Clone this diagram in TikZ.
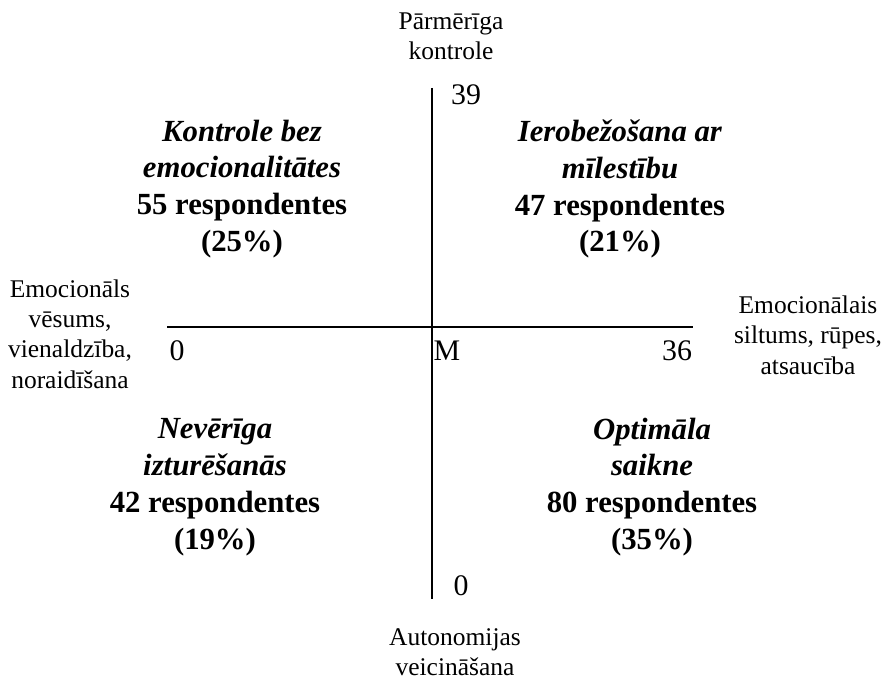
\documentclass[tikz,border=0pt]{standalone}
\usepackage{fontspec}
\setmainfont{Liberation Serif}
\usetikzlibrary{positioning}
\tikzset{
  quad/.style={align=center,font=\fontsize{17.5}{21}\selectfont\bfseries},
  axlab/.style={align=center,font=\fontsize{14.5}{17.3}\selectfont},
  val/.style={font=\fontsize{17}{20}\selectfont},
  axis/.style={line width=1.3pt}
}
\begin{document}
\begin{tikzpicture}[x=0.02cm,y=-0.02cm]
  \useasboundingbox (0,0) rectangle (883,682);
  % axis end points
  \coordinate (top) at (432,88);
  \coordinate (bot) at (432,599);
  \coordinate (lft) at (167,327);
  \coordinate (rgt) at (693,327);
  \draw[axis] (top) -- (bot); % vertical axis
  \draw[axis] (lft) -- (rgt); % horizontal axis
  % values on the axes
  \node[val] (v39) at (466,95) {39};
  \node[val] (v0b) at (461,586) {0};
  \node[val] (v0l) at (177,351) {0};
  \node[val] (vM) at (447,351) {M};
  \node[val] (v36) at (677,351) {36};
  % pole labels
  \node[axlab] (pkon) at (451,36) {Pārmērīga\\kontrole};
  \node[axlab] (auto) at (455,652) {Autonomijas\\veicināšana};
  \node[axlab] (vesu) at (70,334) {Emocionāls\\vēsums,\\vienaldzība,\\noraidīšana};
  \node[axlab] (silt) at (808,335) {Emocionālais\\siltums, rūpes,\\atsaucība};
  % quadrants
  \node[quad] (kbe) at (242,189) {\textit{Kontrole bez}\\\textit{emocionalitātes}\\55 respondentes\\(25\%)};
  \node[quad] (iam) at (620,189) {\textit{Ierobežošana ar}\\\textit{mīlestību}\\47 respondentes\\(21\%)};
  \node[quad] (niz) at (215,487) {\textit{Nevērīga}\\\textit{izturēšanās}\\42 respondentes\\(19\%)};
  \node[quad] (osa) at (652,487) {\textit{Optimāla}\\\textit{saikne}\\80 respondentes\\(35\%)};
\end{tikzpicture}
\end{document}
